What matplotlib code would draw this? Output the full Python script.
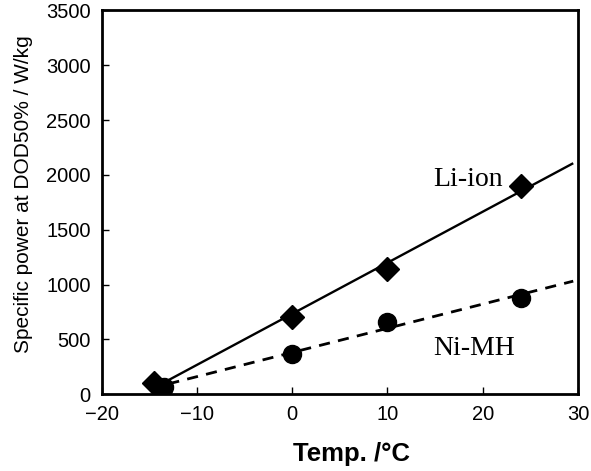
import numpy as np
import matplotlib
matplotlib.use("Agg")
import matplotlib.pyplot as plt

# Measured specific power vs. temperature
li_temp = [-14.5, 0, 10, 24]
li_power = [100, 700, 1140, 1900]
ni_temp = [-13.5, 0, 10, 24]
ni_power = [70, 370, 655, 880]

x_ticks = [-20, -10, 0, 10, 20, 30]
y_ticks = [0, 500, 1000, 1500, 2000, 2500, 3000, 3500]

fig = plt.figure(figsize=(5.91, 4.71), dpi=100)
ax = fig.add_axes([0.172, 0.163, 0.806, 0.815])

# Linear fits through each series
li_fit = np.polyfit(li_temp, li_power, 1)
ni_fit = np.polyfit(ni_temp, ni_power, 1)
xl = np.array([-14.0, 29.5])
xn = np.array([-13.0, 29.5])
ax.plot(xl, np.polyval(li_fit, xl), color="black", lw=1.7, solid_capstyle="butt")
ax.plot(xn, np.polyval(ni_fit, xn), color="black", lw=2.0, ls=(0, (4, 3)))

ax.plot(li_temp, li_power, ls="none", marker="D", ms=12, color="black")
ax.plot(ni_temp, ni_power, ls="none", marker="o", ms=13, color="black")

ax.text(14.8, 1960, "Li-ion", family="Liberation Serif", fontsize=20, ha="left", va="center")
ax.text(14.8, 420, "Ni-MH", family="Liberation Serif", fontsize=20, ha="left", va="center")

ax.set_xlim(-20, 30)
ax.set_ylim(0, 3500)
ax.set_xticks(x_ticks)
ax.set_yticks(y_ticks)
ax.tick_params(direction="in", length=5, width=1, labelsize=14.5, pad=8)
for lab in ax.get_xticklabels() + ax.get_yticklabels():
    lab.set_family("Liberation Sans")
for s in ax.spines.values():
    s.set_linewidth(2.0)

ax.set_xlabel("Temp. /°C", family="Liberation Sans", fontsize=18.5, fontweight="bold")
ax.xaxis.set_label_coords(0.525, -0.125)
ax.set_ylabel("Specific power at DOD50% / W/kg", family="Liberation Sans", fontsize=15)
ax.yaxis.set_label_coords(-0.145, 0.52)

fig.savefig("out.png", dpi=100)
